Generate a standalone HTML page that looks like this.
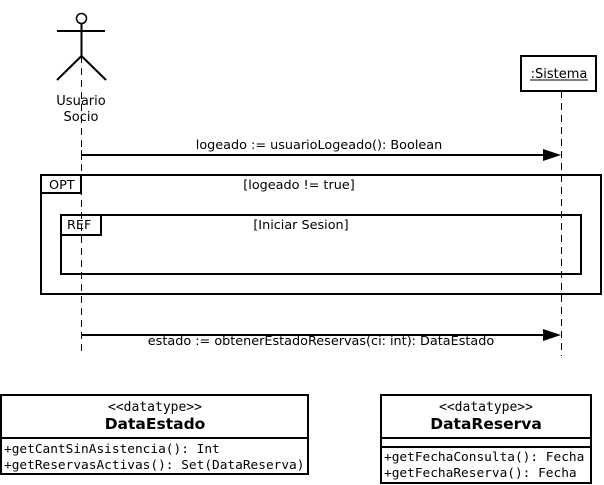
<!DOCTYPE html>
<html><head><meta charset="utf-8"><style>
html,body{margin:0;padding:0;background:#fff;width:604px;height:485px;overflow:hidden}
svg{display:block}
text{font-family:"DejaVu Sans","Liberation Sans",sans-serif;font-size:12.8px;fill:#000}
.m{font-family:"DejaVu Sans Mono","Liberation Mono",monospace;font-size:12.8px}
</style></head><body>
<svg width="604" height="485" viewBox="0 0 604 485" xmlns="http://www.w3.org/2000/svg">
<g stroke="#000" fill="none">
<circle cx="81.5" cy="18.5" r="5" stroke-width="1.5"/>
<line x1="81.5" y1="24" x2="81.5" y2="56" stroke-width="2"/>
<line x1="57" y1="31" x2="105" y2="31" stroke-width="2"/>
<line x1="81.5" y1="56" x2="57" y2="80" stroke-width="2"/>
<line x1="81.5" y1="56" x2="106" y2="80" stroke-width="2"/>
<line x1="81.5" y1="56" x2="81.5" y2="352" stroke-dasharray="7,5" stroke-width="1"/>
<line x1="561.5" y1="91" x2="561.5" y2="356" stroke-dasharray="7,5" stroke-width="1"/>
<rect x="521" y="56" width="75" height="35" stroke-width="2" fill="#fff"/>
<line x1="530" y1="80" x2="588" y2="80" stroke-width="1"/>
<line x1="81" y1="155" x2="548" y2="155" stroke-width="2"/>
<line x1="81" y1="335" x2="548" y2="335" stroke-width="2"/>
<rect x="41" y="175" width="560" height="119" stroke-width="2"/>
<path d="M41 193 H81 V175" stroke-width="2"/>
<rect x="61" y="215" width="520" height="59" stroke-width="2"/>
<path d="M61 235 H101 V215" stroke-width="2"/>
<rect x="1" y="395" width="307" height="79" stroke-width="2"/>
<line x1="1" y1="438" x2="308" y2="438" stroke-width="2"/>
<rect x="381" y="395" width="210" height="88" stroke-width="2"/>
<line x1="381" y1="438" x2="591" y2="438" stroke-width="2"/>
<line x1="381" y1="447" x2="591" y2="447" stroke-width="2"/>
</g>
<polygon points="543,149 561,155 543,161" fill="#000"/>
<polygon points="543,329 561,335 543,341" fill="#000"/>
<line x1="81.5" y1="150" x2="81.5" y2="160" stroke="#000" stroke-width="1"/>
<text x="81" y="105" text-anchor="middle" style="font-size:13px">Usuario</text>
<text x="81" y="121" text-anchor="middle" style="font-size:13px">Socio</text>
<text x="559" y="78" text-anchor="middle" style="font-size:13px">:Sistema</text>
<text x="319" y="149" text-anchor="middle">logeado := usuarioLogeado(): Boolean</text>
<text x="49" y="189">OPT</text>
<text x="299" y="189" text-anchor="middle">[logeado != true]</text>
<text x="67" y="229">REF</text>
<text x="301" y="229" text-anchor="middle">[Iniciar Sesion]</text>
<text x="321" y="345" text-anchor="middle">estado := obtenerEstadoReservas(ci: int): DataEstado</text>
<text x="155" y="411" text-anchor="middle" class="m" style="font-size:13px">&lt;&lt;datatype&gt;&gt;</text>
<text x="155" y="429" text-anchor="middle" style="font-size:15.5px;font-weight:bold">DataEstado</text>
<text x="4" y="453" class="m">+getCantSinAsistencia(): Int</text>
<text x="4" y="469" class="m">+getReservasActivas(): Set(DataReserva)</text>
<text x="486" y="411" text-anchor="middle" class="m" style="font-size:13px">&lt;&lt;datatype&gt;&gt;</text>
<text x="486" y="429" text-anchor="middle" style="font-size:15.5px;font-weight:bold">DataReserva</text>
<text x="384" y="461" class="m">+getFechaConsulta(): Fecha</text>
<text x="384" y="477" class="m">+getFechaReserva(): Fecha</text>
</svg>
</body></html>
